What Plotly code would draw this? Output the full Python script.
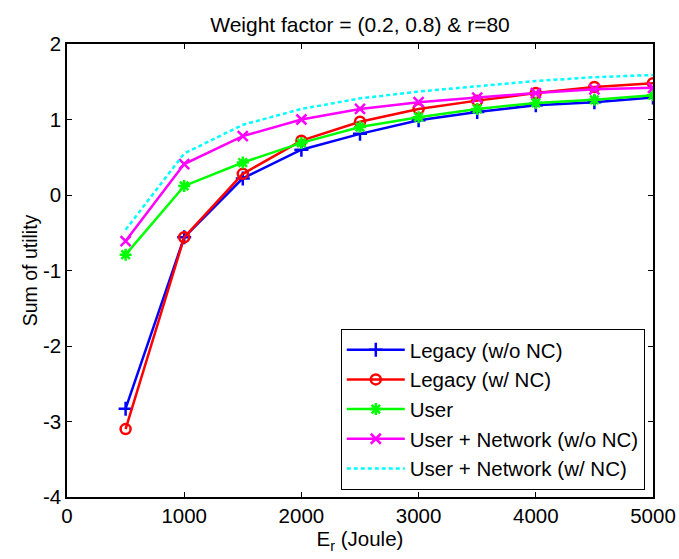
import plotly.graph_objects as go

# Residual energy (Joule)
energy = [500, 1000, 1500, 2000, 2500, 3000, 3500, 4000, 4500, 5000]

# Sum of utility per scheme
legacy_wo_nc = [-2.83, -0.56, 0.22, 0.60, 0.81, 0.99, 1.10, 1.19, 1.23, 1.29]
legacy_w_nc = [-3.10, -0.56, 0.28, 0.72, 0.97, 1.14, 1.25, 1.35, 1.43, 1.48]
user = [-0.79, 0.12, 0.43, 0.69, 0.90, 1.03, 1.14, 1.22, 1.26, 1.32]
user_net_wo_nc = [-0.61, 0.41, 0.78, 1.00, 1.14, 1.23, 1.29, 1.35, 1.40, 1.42]
user_net_w_nc = [-0.46, 0.55, 0.93, 1.14, 1.28, 1.37, 1.44, 1.51, 1.56, 1.59]

x_ticks = [0, 1000, 2000, 3000, 4000, 5000]
y_ticks = [-4, -3, -2, -1, 0, 1, 2]
y_tick_labels = ["-4", "-3", "-2", "-1", "0", "1", "2"]

FONT = "Liberation Sans, Arial, sans-serif"

series = [
    ("Legacy (w/o NC)", legacy_wo_nc, "#0000ff", "cross-thin-open", "solid"),
    ("Legacy (w/ NC)", legacy_w_nc, "#ff0000", "circle-open", "solid"),
    ("User", user, "#00ff00", "asterisk-open", "solid"),
    ("User + Network (w/o NC)", user_net_wo_nc, "#ff00ff", "x-thin-open", "solid"),
    ("User + Network (w/ NC)", user_net_w_nc, "#00ffff", None, "4px,3px"),
]

fig = go.Figure()
for name, vals, color, symbol, dash in series:
    common = dict(x=energy, y=vals, name=name,
                  line=dict(color=color, width=2.5, dash=dash))
    if symbol is None:
        fig.add_trace(go.Scatter(mode="lines", **common))
    else:
        fig.add_trace(go.Scatter(
            mode="lines+markers",
            marker=dict(symbol=symbol, size=10, color=color,
                        line=dict(color=color, width=2.5)),
            **common,
        ))

axis_common = dict(
    showline=True, linecolor="black", linewidth=1.5, mirror="ticks",
    ticks="inside", ticklen=5, tickcolor="black", tickwidth=1,
    showgrid=False, zeroline=False, automargin=False,
    tickfont=dict(family=FONT, size=20.5, color="black"),
)

fig.update_layout(
    width=679, height=559,
    paper_bgcolor="white", plot_bgcolor="white",
    margin=dict(l=67, r=26, t=44, b=62),
    title=dict(text="Weight factor = (0.2, 0.8) & r=80",
               font=dict(family=FONT, size=21, color="black"),
               x=0.5, xanchor="center", xref="paper", y=0.956, yanchor="middle"),
    xaxis=dict(range=[0, 5000], tickvals=x_ticks,
               title=dict(text="E<sub>r</sub> (Joule)",
                          font=dict(family=FONT, size=20.5, color="black"), standoff=0),
               **axis_common),
    yaxis=dict(range=[-4, 2], tickvals=y_ticks, ticktext=y_tick_labels,
               title=dict(text="Sum of utility",
                          font=dict(family=FONT, size=19.5, color="black"), standoff=0),
               **axis_common),
    legend=dict(x=0.986, y=0.0155, xanchor="right", yanchor="bottom",
                bgcolor="white", bordercolor="black", borderwidth=1,
                font=dict(family=FONT, size=20.5, color="black"),
                tracegroupgap=0, itemwidth=58),
    showlegend=True,
)

fig.write_html("out.html")
